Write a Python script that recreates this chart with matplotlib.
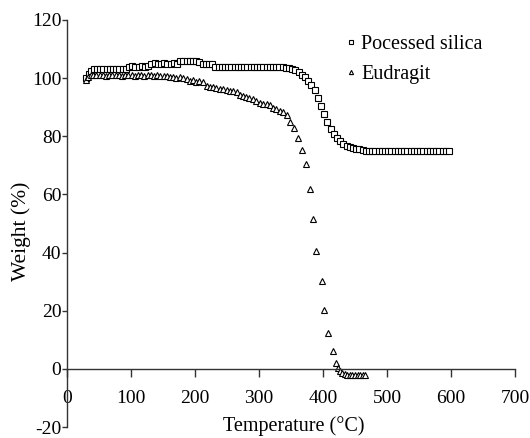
import matplotlib
matplotlib.use("Agg")
import matplotlib.pyplot as plt
from matplotlib.lines import Line2D

plt.rcParams['font.family'] = ['Liberation Serif', 'DejaVu Serif']
plt.rcParams['axes.unicode_minus'] = False

# Processed silica (squares)
silica_T = [30, 34, 38, 42, 47, 52, 57, 62, 67, 72, 77, 82, 87, 92, 97, 102, 107, 112,
            117, 122, 127, 132, 137, 142, 147, 152, 157, 162, 167, 172, 177, 182, 187,
            192, 197, 202, 207, 212, 217, 222, 227, 232, 237, 242, 247, 252, 257, 262,
            267, 272, 277, 282, 287, 292, 297, 302, 307, 312, 317, 322, 327, 332, 337,
            342, 347, 352, 357, 362, 367, 372, 377, 382, 387, 392, 397, 402, 407, 412,
            417, 422, 427, 432, 437, 442, 447, 452, 457, 462, 467, 472, 477, 482, 487,
            492, 497, 502, 507, 512, 517, 522, 527, 532, 537, 542, 547, 552, 557, 562,
            567, 572, 577, 582, 587, 592, 597]
silica_W = [100.0, 101.5, 102.3, 103.0, 103.0, 103.1, 103.0, 103.1, 103.0, 103.0, 103.1,
            103.0, 103.0, 103.1, 104.0, 104.1, 104.0, 104.0, 104.1, 104.0, 104.1, 105.0,
            105.1, 105.0, 105.0, 105.1, 105.0, 105.0, 105.1, 105.0, 105.8, 105.8, 105.9,
            105.8, 105.8, 105.8, 105.7, 105.0, 105.0, 104.9, 104.9, 103.9, 103.8, 103.8,
            103.8, 103.8, 103.9, 103.8, 103.8, 103.8, 103.8, 103.8, 103.9, 103.8, 103.8,
            103.8, 103.8, 103.9, 103.8, 103.8, 103.8, 103.8, 103.7, 103.6, 103.5, 103.2,
            102.8, 102.0, 101.0, 100.3, 99.0, 97.5, 95.8, 93.0, 90.3, 87.5, 84.8, 82.5,
            80.8, 79.5, 78.3, 77.4, 76.8, 76.3, 76.0, 75.7, 75.5, 75.3, 75.1, 75.1, 75.0,
            75.0, 75.0, 75.0, 75.0, 75.0, 75.0, 75.0, 75.0, 75.0, 75.0, 75.0, 75.0, 75.0,
            75.0, 75.0, 75.0, 75.0, 75.0, 75.0, 75.0, 75.0, 75.0, 75.0, 75.0]

# Eudragit (triangles)
eud_T = [30, 33, 37, 41, 46, 51, 56, 61, 66, 71, 76, 81, 86, 91, 96, 101, 106, 111, 116,
         121, 126, 131, 136, 141, 146, 151, 156, 161, 166, 171, 176, 181, 187, 192, 197,
         202, 207, 213, 218, 223, 228, 233, 239, 244, 250, 255, 260, 265, 270, 275, 280,
         285, 291, 296, 302, 307, 312, 317, 322, 327, 333, 338, 343, 348, 354, 361, 367,
         373, 380, 385, 389, 398, 402, 408, 416, 420, 423, 426, 430, 434, 438, 442, 446,
         450, 454, 458, 462, 466]
eud_W = [99.5, 100.5, 101.2, 101.1, 101.0, 101.2, 101.0, 100.9, 101.1, 101.0, 101.2,
         101.0, 100.9, 101.1, 101.0, 101.0, 100.9, 101.1, 101.0, 100.9, 101.0, 101.0,
         100.9, 101.0, 100.8, 100.8, 100.7, 100.3, 100.3, 100.2, 100.3, 100.2, 99.8, 99.0,
         99.2, 98.8, 99.0, 98.6, 97.3, 96.9, 97.0, 96.6, 96.4, 96.2, 95.8, 95.6, 95.5,
         95.2, 94.2, 93.8, 93.5, 93.2, 92.8, 92.3, 91.5, 91.2, 91.0, 90.7, 89.7, 89.3,
         88.8, 88.2, 87.3, 84.8, 82.9, 79.5, 75.2, 70.3, 61.7, 51.4, 40.5, 30.2, 20.4,
         12.4, 6.1, 2.0, 0.2, -0.8, -1.5, -1.9, -2.0, -2.0, -2.0, -2.0, -2.0, -2.0,
         -2.0, -2.0]

x_ticks = [0, 100, 200, 300, 400, 500, 600, 700]
y_ticks = [-20, 0, 20, 40, 60, 80, 100, 120]

fig = plt.figure(figsize=(5.3, 4.38), dpi=100)
ax = fig.add_axes([67/530, 11/438, 448/530, 407/438])

ax.plot(silica_T, silica_W, linestyle='none', marker='s', markersize=4.6,
        markerfacecolor='white', markeredgecolor='black', markeredgewidth=0.8,
        label='Pocessed silica')
ax.plot(eud_T, eud_W, linestyle='none', marker='^', markersize=4.6,
        markerfacecolor='white', markeredgecolor='black', markeredgewidth=0.8,
        label='Eudragit')

ax.set_xlim(0, 700)
ax.set_ylim(-20, 120)
ax.set_xticks(x_ticks)
ax.set_yticks(y_ticks)
ax.set_xticklabels([str(t) for t in x_ticks])
ax.set_yticklabels([str(t) for t in y_ticks])

for s in ['top', 'right']:
    ax.spines[s].set_visible(False)
ax.spines['bottom'].set_position(('data', 0))
ax.spines['left'].set_position(('data', 0))
for s in ['bottom', 'left']:
    ax.spines[s].set_color('#333333')
    ax.spines[s].set_linewidth(1.0)
ax.tick_params(axis='x', direction='out', length=5.5, width=1.0, color='#333333',
               labelsize=14, pad=10)
ax.tick_params(axis='y', direction='out', length=3.6, width=1.0, color='#333333',
               labelsize=14, pad=0.5)

fig.text(21/530, 1 - 231/438, 'Weight (%)', rotation=90, ha='center', va='center',
         fontsize=15.5)
fig.text(294/530, 1 - 426/438, 'Temperature (\u00b0C)', ha='center', va='center',
         fontsize=14.5)

handles = [Line2D([], [], linestyle='none', marker='s', markersize=3.5,
                  markerfacecolor='white', markeredgecolor='black', markeredgewidth=0.8),
           Line2D([], [], linestyle='none', marker='^', markersize=3.0,
                  markerfacecolor='white', markeredgecolor='black', markeredgewidth=0.8)]
fig.legend(handles, ['Pocessed silica', 'Eudragit'], loc='upper left',
           bbox_to_anchor=(335/530, 1 - 25/438), frameon=False, fontsize=14.5,
           handlelength=0.6, handletextpad=0.2, labelspacing=0.55, borderpad=0)

fig.savefig('out.png', dpi=100)
